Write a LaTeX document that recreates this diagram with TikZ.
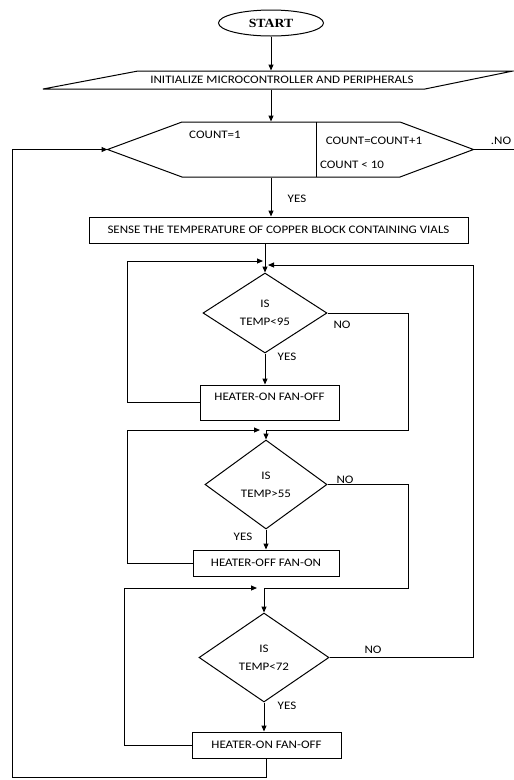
\documentclass[tikz,border=0pt]{standalone}
\usepackage{fontspec}
\setmainfont{Carlito}[FakeStretch=1.13]
\newfontfamily\serifstart{Liberation Serif}[FakeStretch=1.1]
\usetikzlibrary{shapes.geometric,arrows.meta}
\begin{document}
\begin{tikzpicture}[x=1pt,y=-1pt,line width=1pt,
  >={Triangle[length=6pt,width=5pt]},
  every node/.style={font=\fontsize{11.5}{18}\selectfont},
  lbl/.style={inner sep=0},
  dec/.style={draw,diamond,inner sep=0,align=center},
  box/.style={draw,rectangle,inner sep=0}]
\useasboundingbox (0,0) rectangle (514,780);

% start
\node[ellipse,draw,minimum width=105pt,minimum height=26pt,inner sep=0,
      font=\serifstart\bfseries\fontsize{12.5}{13}\selectfont] (start) at (271,23) {START};

% initialize (parallelogram)
\node[lbl,minimum width=290pt,minimum height=18pt] (init) at (282,80)
  {INITIALIZE MICROCONTROLLER AND PERIPHERALS};
\draw (138,71) -- (513,71) -- (425,89) -- (43,89) -- cycle;

% hexagon
\node[lbl,minimum width=365pt,minimum height=55pt] (hex) at (290.5,149.5) {};
\draw (hex.west) -- (182,122) -- (400,122) -- (hex.east) -- (400,177) -- (182,177) -- cycle;
\draw (316,122) -- (316,177);
\node[lbl] (cnt1) at (215,135) {COUNT=1};
\node[lbl] (cntinc) at (374,141) {COUNT=COUNT+1};
\node[lbl] (cntlt) at (352,165) {COUNT < 10};
\coordinate (noend) at (514,149.5);
\draw (hex.east) -- (noend);
\node[lbl] (no0) at (501,141) {.NO};

% sense box
\node[box,minimum width=379pt,minimum height=26pt] (sense) at (278.5,230)
  {SENSE THE TEMPERATURE OF COPPER BLOCK CONTAINING VIALS};

\draw[->] (start.south) -- (init.north -| start.south);
\draw[->] (init.south -| start.south) -- (hex.north -| start.south);
\draw[->] (hex.south -| start.south) -- (sense.north -| start.south);
\node[lbl] (yes0) at (297,199) {YES};

% diamond 1
\node[dec,minimum width=124pt,minimum height=80pt] (d1) at (265,313) {IS\\TEMP<95};
\coordinate (j1l) at (263,261);
\coordinate (j1r) at (268,265);
\draw[->] (sense.south -| d1.north) -- (d1.north);
\node[box,minimum width=139pt,minimum height=35pt,text height=12pt,text depth=16pt]
  (b1) at (269.5,402.5) {HEATER-ON FAN-OFF};
\draw[->] (d1.south) -- (b1.north -| d1.south);
\node[lbl] (yes1) at (287,357) {YES};
\node[lbl] (no1) at (342,325) {NO};
\draw[->] (b1.west) -- ++(-72,0) |- (j1l);

% diamond 2
\node[dec,minimum width=122pt,minimum height=89pt] (d2) at (266,484.5) {IS\\TEMP>55};
\coordinate (j2l) at (260,430);
\draw[->] (d1.east) -| (408,430) -| (d2.north);
\node[box,minimum width=146pt,minimum height=26pt] (b2) at (266,563) {HEATER-OFF FAN-ON};
\draw[->] (d2.south) -- (b2.north -| d2.south);
\node[lbl] (yes2) at (243,537) {YES};
\node[lbl] (no2) at (345,480) {NO};
\draw[->] (b2.west) -- ++(-65,0) |- (j2l);

% diamond 3
\node[dec,minimum width=130pt,minimum height=89pt] (d3) at (264,657.5) {IS\\TEMP<72};
\coordinate (j3l) at (257,588);
\draw[->] (d2.east) -| (408,588) -| (d3.north);
\node[box,minimum width=149pt,minimum height=26pt] (b3) at (266.5,745) {HEATER-ON FAN-OFF};
\draw[->] (d3.south) -- (b3.north -| d3.south);
\node[lbl] (yes3) at (287,706) {YES};
\node[lbl] (no3) at (373,650) {NO};
\draw[->] (b3.west) -- ++(-67,0) |- (j3l);
\draw[->] (d3.east) -| (473,265) -- (j1r);

% outer loop back to count
\draw[->] (b3.south) -- ++(0,19) -| (12,149.5) -- (hex.west);
\end{tikzpicture}
\end{document}
